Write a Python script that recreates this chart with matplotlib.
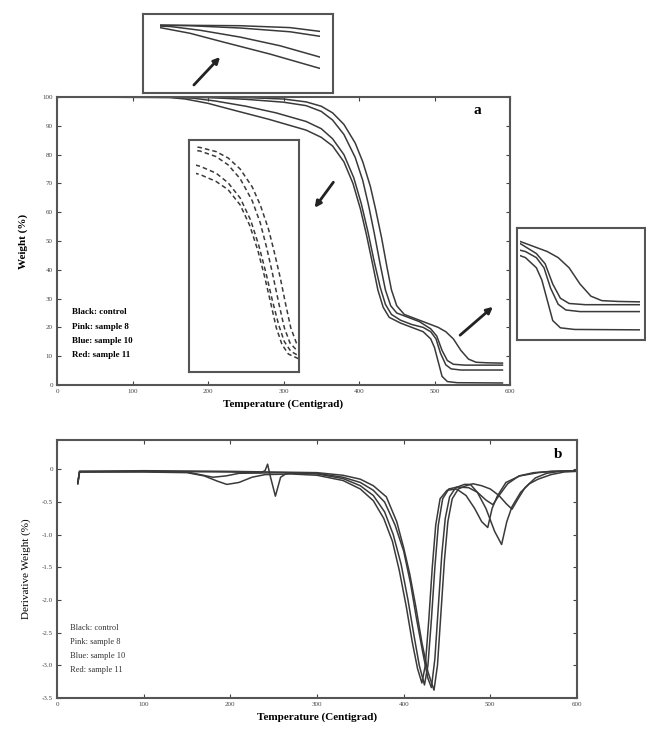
import numpy as np
import matplotlib
matplotlib.use("Agg")
import matplotlib.pyplot as plt
from matplotlib.patches import FancyArrowPatch

plt.rcParams['font.family'] = ['Liberation Serif', 'DejaVu Serif']

W_PX, H_PX = 646, 732

# ---- panel a: TGA weight curves (temperature C, weight %)
tga_a_t = [25, 150, 250, 300, 330, 350, 365, 380, 395, 405, 415, 422, 430, 437, 443, 450, 460, 475, 490, 505, 515, 525, 535, 545, 555, 570, 590]
tga_a_w = [100, 100, 99.8, 99.3, 98.3, 96.8, 94.5, 90.5, 84, 77.5, 69, 61, 51, 41, 33, 27.5, 24.5, 23, 21.5, 20, 18.5, 16, 12, 9, 7.9, 7.7, 7.6]
tga_b_t = [25, 150, 200, 250, 300, 330, 350, 365, 380, 395, 405, 413, 420, 428, 435, 442, 450, 465, 480, 495, 503, 510, 517, 525, 540, 590]
tga_b_w = [100, 100, 99.8, 99.2, 98.2, 97, 95, 92, 87, 79, 71, 62, 53, 42, 33, 27.5, 25, 23.5, 22, 19.5, 17, 12, 8.5, 7.2, 6.9, 6.9]
tga_c_t = [25, 150, 180, 210, 250, 290, 330, 350, 365, 380, 393, 403, 412, 420, 428, 435, 443, 455, 470, 485, 495, 502, 508, 515, 522, 535, 590]
tga_c_w = [100, 99.9, 99.6, 98.6, 96.8, 94.5, 91.5, 89, 85.5, 80, 72, 63, 53, 43, 34, 28, 24.5, 22.5, 21, 20, 18.5, 16, 11, 7, 5.6, 5.2, 5.2]
tga_d_t = [25, 150, 170, 200, 233, 280, 330, 350, 365, 380, 392, 402, 410, 418, 425, 432, 440, 455, 470, 485, 495, 500, 505, 510, 517, 530, 590]
tga_d_w = [100, 99.8, 99.3, 97.8, 95.5, 92.3, 88.5, 86, 83, 77.5, 70, 61, 52, 42, 33, 27, 23.5, 21.5, 20, 18.5, 16, 13, 8, 3, 1.2, 0.8, 0.7]

# ---- panel b: derivative weight curves
dtg_a_t = [24, 26, 100, 200, 300, 330, 350, 365, 380, 392, 400, 407, 414, 421, 428, 435, 439, 443, 447, 451, 456, 463, 472, 480, 490, 500, 510, 518, 525, 532, 540, 552, 565, 580, 600]
dtg_a_v = [-0.22, -0.03, -0.02, -0.03, -0.05, -0.09, -0.15, -0.25, -0.42, -0.8, -1.2, -1.6, -2.1, -2.65, -3.1, -3.38, -3.0, -2.2, -1.4, -0.8, -0.45, -0.3, -0.25, -0.22, -0.25, -0.3, -0.4, -0.52, -0.61, -0.45, -0.28, -0.13, -0.06, -0.03, -0.02]
dtg_b_t = [24, 26, 100, 200, 235, 240, 243, 246, 252, 258, 265, 300, 330, 350, 365, 378, 390, 400, 408, 415, 422, 428, 432, 436, 440, 444, 448, 453, 460, 470, 477, 485, 495, 505, 513, 519, 525, 535, 545, 555, 570, 585, 600]
dtg_b_v = [-0.2, -0.04, -0.03, -0.04, -0.05, -0.02, 0.08, -0.1, -0.41, -0.12, -0.06, -0.06, -0.12, -0.2, -0.32, -0.5, -0.85, -1.25, -1.75, -2.3, -2.8, -3.2, -3.34, -2.9, -2.1, -1.3, -0.75, -0.42, -0.28, -0.23, -0.23, -0.35, -0.6, -0.95, -1.15, -0.8, -0.57, -0.35, -0.22, -0.15, -0.08, -0.04, -0.03]
dtg_c_t = [24, 26, 100, 150, 165, 180, 195, 210, 260, 300, 330, 350, 365, 378, 388, 397, 405, 412, 418, 424, 428, 432, 436, 440, 445, 452, 462, 475, 485, 495, 503, 510, 520, 533, 550, 570, 600]
dtg_c_v = [-0.2, -0.03, -0.03, -0.04, -0.08, -0.12, -0.1, -0.06, -0.05, -0.07, -0.14, -0.25, -0.4, -0.65, -1.0, -1.45, -2.0, -2.55, -3.0, -3.3, -3.0, -2.3, -1.5, -0.85, -0.45, -0.3, -0.27, -0.28, -0.35, -0.47, -0.54, -0.4, -0.22, -0.1, -0.05, -0.03, -0.02]
dtg_d_t = [24, 26, 100, 150, 170, 185, 196, 210, 225, 240, 270, 300, 330, 350, 365, 377, 387, 395, 403, 410, 416, 421, 425, 429, 433, 437, 442, 450, 461, 472, 482, 490, 497, 502, 508, 518, 534, 555, 572, 600]
dtg_d_v = [-0.22, -0.04, -0.04, -0.05, -0.1, -0.18, -0.23, -0.2, -0.12, -0.08, -0.07, -0.09, -0.17, -0.3, -0.48, -0.75, -1.1, -1.55, -2.1, -2.65, -3.05, -3.27, -3.0, -2.3, -1.5, -0.85, -0.45, -0.32, -0.3, -0.4, -0.6, -0.8, -0.89, -0.6, -0.41, -0.2, -0.1, -0.05, -0.03, -0.02]

legend_lines = ["Black: control", "Pink: sample 8", "Blue: sample 10", "Red: sample 11"]
x_ticks = [0, 100, 200, 300, 400, 500, 600]
wt_ticks = [0, 10, 20, 30, 40, 50, 60, 70, 80, 90, 100]
dtg_ticks = [-3.5, -3.0, -2.5, -2.0, -1.5, -1.0, -0.5, 0]
dtg_labels = ["-3.5", "-3.0", "-2.5", "-2.0", "-1.5", "-1.0", "-0.5", "0"]

tga = [(tga_a_t, tga_a_w), (tga_b_t, tga_b_w), (tga_c_t, tga_c_w), (tga_d_t, tga_d_w)]
dtg = [(dtg_a_t, dtg_a_v), (dtg_b_t, dtg_b_v), (dtg_c_t, dtg_c_v), (dtg_d_t, dtg_d_v)]

line_col = '#3a3a3a'
frame_col = '#555555'


def px_rect(x0, y0, x1, y1):
    # pixel box (top-left origin) -> figure fraction rect
    return [x0 / W_PX, 1 - y1 / H_PX, (x1 - x0) / W_PX, (y1 - y0) / H_PX]


def px_pt(x, y):
    return (x / W_PX, 1 - y / H_PX)


def style_axes(ax):
    for s in ax.spines.values():
        s.set_color(frame_col)
        s.set_linewidth(1.5)
    ax.tick_params(direction='in', top=True, right=True, length=3, width=0.8,
                   labelsize=5, colors='#444444', pad=3)


fig = plt.figure(figsize=(W_PX / 100, H_PX / 100), dpi=100)

# ---- panel a
ax1 = fig.add_axes(px_rect(57, 97, 510, 385))
for t, w in tga:
    ax1.plot(t, w, color=line_col, lw=1.1)
ax1.set_xlim(0, 600)
ax1.set_ylim(0, 100)
ax1.set_xticks(x_ticks)
ax1.set_yticks(wt_ticks)
style_axes(ax1)
ax1.set_ylabel("Weight (%)", fontsize=8, fontweight='bold', labelpad=10)
ax1.set_xlabel("Temperature (Centigrad)", fontsize=8, fontweight='bold', labelpad=4)
ax1.text(0.92, 0.94, "a", transform=ax1.transAxes, fontsize=11, fontweight='bold')
for i, s in enumerate(legend_lines):
    fig.text(*px_pt(72, 312 + i * 14.5), s, fontsize=6.5, fontweight='bold', va='center')

# ---- insets (frame + clipped inner view)
def inset(box, inner, xlim, ylim, ls='-'):
    fr = fig.add_axes(px_rect(*box))
    fr.set_xticks([])
    fr.set_yticks([])
    for s in fr.spines.values():
        s.set_color(frame_col)
        s.set_linewidth(1.5)
    fr.patch.set_facecolor('white')
    ia = fig.add_axes(px_rect(*inner))
    ia.set_axis_off()
    for t, w in tga:
        ia.plot(t, w, color=line_col, lw=1.1, ls=ls)
    ia.set_xlim(*xlim)
    ia.set_ylim(*ylim)
    return fr, ia

inset((143, 14, 333, 93), (160, 14, 320, 93), (170, 330), (82, 102.9))
inset((189, 140, 299, 372), (196, 140, 298, 372), (325, 452), (17, 101), ls=(0, (3, 2)))
inset((517, 228, 645, 340), (520, 228, 640, 340), (480, 590), (-1.8, 25.8))

arrows = [((192, 87), (222, 55)), ((335, 180), (313, 210)), ((458, 337), (495, 305))]
for p0, p1 in arrows:
    fig.add_artist(FancyArrowPatch(px_pt(*p0), px_pt(*p1), transform=fig.transFigure,
                                   arrowstyle='-|>', mutation_scale=9, lw=2,
                                   color='#222222'))

# ---- panel b
ax2 = fig.add_axes(px_rect(57, 440, 577, 698))
for t, v in dtg:
    ax2.plot(t, v, color=line_col, lw=1.1)
ax2.set_xlim(0, 600)
ax2.set_ylim(-3.5, 0.45)
ax2.set_xticks(x_ticks)
ax2.set_yticks(dtg_ticks)
ax2.set_yticklabels(dtg_labels)
style_axes(ax2)
ax2.set_ylabel("Derivative Weight (%)", fontsize=8, labelpad=8)
ax2.set_xlabel("Temperature (Centigrad)", fontsize=8, fontweight='bold', labelpad=4)
ax2.text(0.955, 0.93, "b", transform=ax2.transAxes, fontsize=11, fontweight='bold')
for i, s in enumerate(legend_lines):
    fig.text(*px_pt(70, 628 + i * 14), s, fontsize=6, va='center', color='#333333')

fig.savefig("out.png", dpi=100)
